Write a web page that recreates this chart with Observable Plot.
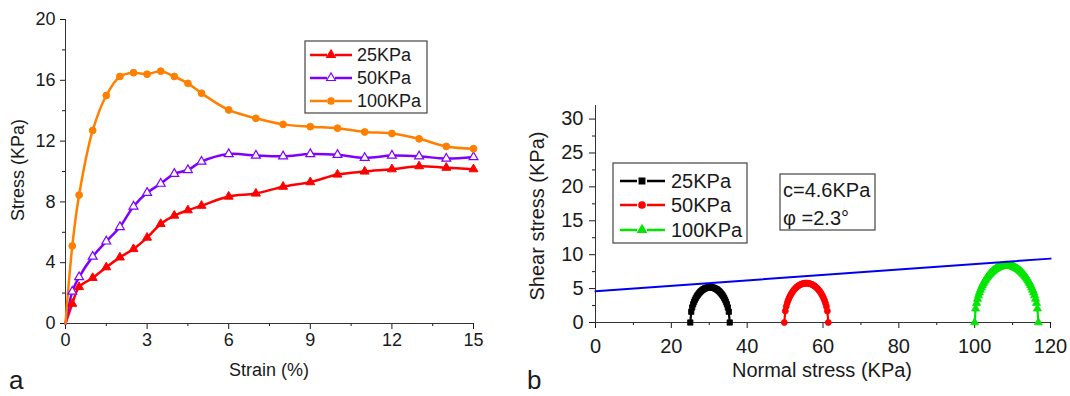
<!DOCTYPE html>
<html><head><meta charset="utf-8">
<script src="https://cdn.jsdelivr.net/npm/d3@7"></script>
<script src="https://cdn.jsdelivr.net/npm/@observablehq/plot@0.6"></script>
<style>
body{margin:0;background:#fff;}
#wrap{position:relative;width:1070px;height:396px;overflow:hidden;background:#fff;}
#wrap > svg{position:absolute;}
</style></head><body><div id="wrap"></div>
<script>
// ---------- Panel a data ----------
const seriesNames = ["25KPa", "50KPa", "100KPa"];
const strain = [0,0.25,0.5,1,1.5,2,2.5,3,3.5,4,4.5,5,6,7,8,9,10,11,12,13,14,15];
const stress25 = [0,1.3,2.4,3.0,3.7,4.35,4.9,5.65,6.55,7.1,7.45,7.75,8.35,8.55,9.0,9.3,9.8,10.0,10.15,10.35,10.25,10.15];
const stress50 = [0,2.1,3.05,4.4,5.4,6.35,7.7,8.6,9.2,9.85,10.1,10.65,11.15,11.05,11.0,11.15,11.1,10.9,11.05,11.0,10.85,10.95];
const stress100 = [0,5.1,8.45,12.7,15.0,16.25,16.5,16.4,16.6,16.25,15.8,15.15,14.05,13.5,13.1,12.95,12.85,12.6,12.5,12.15,11.65,11.5];
const xTicksA = [0,3,6,9,12,15];
const xMinorA = [1.5,4.5,7.5,10.5,13.5];
const yTicksA = [0,4,8,12,16,20];
const yMinorA = [2,6,10,14,18];

// ---------- Panel b data ----------
const circleNames = ["25KPa", "50KPa", "100KPa"];
const sigma3 = [25, 49.8, 100];
const sigma1 = [35.4, 61.4, 116.8];
const cohesion = 4.6;   // KPa
const phiDeg = 2.3;     // degrees
const xTicksB = [0,20,40,60,80,100,120];
const xMinorB = [10,30,50,70,90,110];
const yTicksB = [0,5,10,15,20,25,30];
const yMinorB = [2.5,7.5,12.5,17.5,22.5,27.5];

const fontFam = '"Liberation Sans", Arial, Helvetica, sans-serif';
const colA = ["#ff0000", "#7f00ff", "#ff8000"];
const colB = ["#000000", "#ff0000", "#00e600"];
const symB = ["square", "circle", "triangle"];

const wrap = document.getElementById("wrap");

// ---------- Panel a ----------
const stressSets = [stress25, stress50, stress100];
const seriesA = stressSets.map((arr, k) => strain.map((s, i) => ({strain: s, stress: arr[i], name: seriesNames[k]})));

const marksA = [
  Plot.axisX({ticks: xTicksA, tickSize: 6, tickPadding: 4, label: null, fontSize: 18}),
  Plot.axisX({ticks: xMinorA, tickSize: 3, text: null, label: null}),
  Plot.axisY({ticks: yTicksA, tickSize: 5, tickPadding: 5, label: null, fontSize: 18}),
  Plot.axisY({ticks: yMinorA, tickSize: 3, text: null, label: null}),
  Plot.ruleX([0], {stroke: "#333"}),
  Plot.ruleY([0], {stroke: "#333"})
];
seriesA.forEach((d, k) => {
  marksA.push(Plot.line(d, {x: "strain", y: "stress", stroke: colA[k], strokeWidth: 2.5, curve: "catmull-rom"}));
});
marksA.push(Plot.dot(seriesA[0].slice(1), {x: "strain", y: "stress", symbol: "triangle", r: 3.3, fill: colA[0], stroke: colA[0], strokeWidth: 1}));
marksA.push(Plot.dot(seriesA[1].slice(1), {x: "strain", y: "stress", symbol: "triangle", r: 3.3, fill: "white", stroke: colA[1], strokeWidth: 1.2}));
marksA.push(Plot.dot(seriesA[2].slice(1), {x: "strain", y: "stress", symbol: "circle", r: 3.4, fill: colA[2], stroke: colA[2], strokeWidth: 1}));

const pa = Plot.plot({
  width: 530, height: 396,
  marginLeft: 65, marginRight: 57, marginTop: 19, marginBottom: 73,
  style: {fontFamily: fontFam, fontSize: "18px", color: "#1a1a1a", background: "transparent", overflow: "visible"},
  x: {domain: [0, 15]},
  y: {domain: [0, 20]},
  marks: marksA
});
pa.style.left = "0px"; pa.style.top = "0px";
wrap.appendChild(pa);

// ---------- Panel b ----------
const circles = sigma3.map((s3, k) => {
  const s1 = sigma1[k], c = (s1 + s3) / 2, r = (s1 - s3) / 2;
  const n = Math.round((s1 - s3) / 0.25);
  const pts = [];
  for (let i = 0; i <= n; i++) {
    const x = s3 + i * (s1 - s3) / n;
    pts.push({sigma: x, tau: Math.sqrt(Math.max(0, r * r - (x - c) * (x - c))), name: circleNames[k]});
  }
  return pts;
});
const tanPhi = Math.tan(phiDeg * Math.PI / 180);
const envelope = [0, 120].map(x => ({sigma: x, tau: cohesion + x * tanPhi}));

const marksB = [
  Plot.axisX({ticks: xTicksB, tickSize: 6, tickPadding: 10, label: null, fontSize: 20}),
  Plot.axisX({ticks: xMinorB, tickSize: 3, text: null, label: null}),
  Plot.axisY({ticks: yTicksB, tickSize: 6, tickPadding: 6, label: null, fontSize: 20}),
  Plot.axisY({ticks: yMinorB, tickSize: 3, text: null, label: null}),
  Plot.ruleX([0], {stroke: "#333"}),
  Plot.ruleY([0], {stroke: "#333"})
];
circles.forEach((d, k) => {
  marksB.push(Plot.line(d, {x: "sigma", y: "tau", stroke: colB[k], strokeWidth: 2.2}));
  marksB.push(Plot.dot(d, {x: "sigma", y: "tau", symbol: symB[k], r: 3, fill: colB[k], stroke: colB[k], strokeWidth: 0.8}));
});
marksB.push(Plot.line(envelope, {x: "sigma", y: "tau", stroke: "#0000f0", strokeWidth: 2}));

const pb = Plot.plot({
  width: 550, height: 396,
  marginLeft: 75, marginRight: 20, marginTop: 105, marginBottom: 74,
  style: {fontFamily: fontFam, fontSize: "20px", color: "#1a1a1a", background: "transparent", overflow: "visible"},
  x: {domain: [0, 120]},
  y: {domain: [0, 32]},
  marks: marksB
});
pb.style.left = "520px"; pb.style.top = "0px";
wrap.appendChild(pb);

// ---------- Overlay: titles, legends, panel letters ----------
const ov = d3.create("svg").attr("width", 1070).attr("height", 396)
  .style("left", "0px").style("top", "0px")
  .attr("font-family", fontFam).attr("fill", "#1a1a1a");

ov.append("text").attr("transform", "translate(24,170) rotate(-90)").attr("text-anchor", "middle").attr("font-size", 18).text("Stress (KPa)");
ov.append("text").attr("x", 269).attr("y", 376).attr("text-anchor", "middle").attr("font-size", 18).text("Strain (%)");
ov.append("text").attr("x", 9).attr("y", 389).attr("font-size", 26).text("a");

ov.append("text").attr("transform", "translate(544,216) rotate(-90)").attr("text-anchor", "middle").attr("font-size", 20).text("Shear stress (KPa)");
ov.append("text").attr("x", 822).attr("y", 377).attr("text-anchor", "middle").attr("font-size", 20).text("Normal stress (KPa)");
ov.append("text").attr("x", 527).attr("y", 389).attr("font-size", 26).text("b");

function drawLegend(box, rows, names, colors, symbols, fills, seg, fs) {
  ov.append("rect").attr("x", box[0]).attr("y", box[1]).attr("width", box[2] - box[0]).attr("height", box[3] - box[1])
    .attr("fill", "white").attr("stroke", "#444").attr("stroke-width", 1.2);
  names.forEach((nm, k) => {
    const y = rows[k];
    ov.append("line").attr("x1", seg[0]).attr("x2", seg[1]).attr("y1", y).attr("y2", y).attr("stroke", colors[k]).attr("stroke-width", 2.5);
    ov.append("line").attr("x1", seg[3]).attr("x2", seg[4]).attr("y1", y).attr("y2", y).attr("stroke", colors[k]).attr("stroke-width", 2.5);
    const symMap = {triangle: d3.symbolTriangle, circle: d3.symbolCircle, square: d3.symbolSquare};
    ov.append("path").attr("d", d3.symbol(symMap[symbols[k]], 34)())
      .attr("transform", `translate(${seg[2]},${y})`)
      .attr("fill", fills[k]).attr("stroke", colors[k]).attr("stroke-width", 1.1);
    ov.append("text").attr("x", seg[5]).attr("y", y + fs * 0.36).attr("font-size", fs).text(nm);
  });
}
drawLegend([305, 41, 427, 113], [55, 78, 101], seriesNames, colA, ["triangle", "triangle", "circle"],
  [colA[0], "white", colA[2]], [310, 327, 331, 335, 352, 357], 18);
drawLegend([613, 163, 747, 243], [181, 205, 230], circleNames, colB, symB,
  colB, [620, 637, 642, 647, 665, 671], 20);

// parameter box
ov.append("rect").attr("x", 780).attr("y", 174).attr("width", 95).attr("height", 56)
  .attr("fill", "white").attr("stroke", "#444").attr("stroke-width", 1.2);
ov.append("text").attr("x", 783).attr("y", 197).attr("font-size", 20).text("c=" + cohesion + "KPa");
ov.append("text").attr("x", 783).attr("y", 225).attr("font-size", 20).text("φ =" + phiDeg + "°");

wrap.appendChild(ov.node());
</script>
</body></html>
